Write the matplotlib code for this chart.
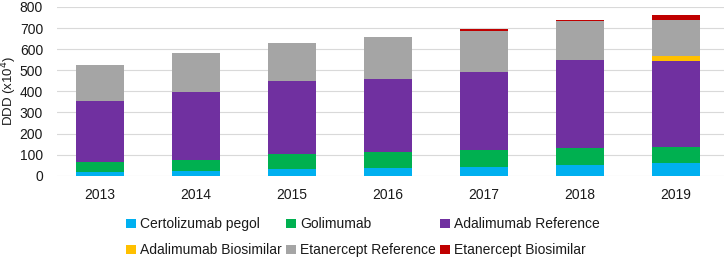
import matplotlib
matplotlib.use("Agg")
import matplotlib.pyplot as plt
import numpy as np

plt.rcParams['font.family'] = ['Liberation Sans', 'DejaVu Sans']

years = ["2013", "2014", "2015", "2016", "2017", "2018", "2019"]
certolizumab = [16, 22, 30, 38, 43, 52, 59]
golimumab = [49, 51, 71, 76, 79, 78, 78]
adalimumab_ref = [289, 324, 346, 346, 368, 417, 408]
adalimumab_bio = [0, 0, 0, 0, 0, 0, 22]
etanercept_ref = [170, 184, 183, 199, 197, 185, 170]
etanercept_bio = [0, 0, 0, 0, 8, 8, 23]

series = [
    ("Certolizumab pegol", certolizumab, "#00B0F0"),
    ("Golimumab", golimumab, "#00B050"),
    ("Adalimumab Reference", adalimumab_ref, "#7030A0"),
    ("Adalimumab Biosimilar", adalimumab_bio, "#FFC000"),
    ("Etanercept Reference", etanercept_ref, "#A5A5A5"),
    ("Etanercept Biosimilar", etanercept_bio, "#C00000"),
]

fig = plt.figure(figsize=(7.26, 2.62), dpi=100)
ax = fig.add_axes([57/726, 1 - 175.7/262, (724-57)/726, (175.7-7)/262])

x = np.arange(len(years))
bottom = np.zeros(len(years))
handles = {}
for name, vals, col in series:
    v = np.array(vals, dtype=float)
    b = ax.bar(x, v, 0.5, bottom=bottom, color=col, linewidth=0, label=name, zorder=3)
    handles[name] = b
    bottom += v

ax.set_xlim(-0.45, 6.5)
ax.set_ylim(0, 800)
ax.set_yticks(range(0, 801, 100))
ax.set_xticks(x)
ax.set_xticklabels(years)
ax.yaxis.grid(True, color="#D9D9D9", linewidth=0.8, zorder=0)
for s in ax.spines.values():
    s.set_visible(False)
ax.tick_params(axis="both", length=0, labelsize=10, colors="#1a1a1a")
ax.tick_params(axis="x", pad=9)
ax.tick_params(axis="y", pad=10)
ax.set_ylabel("DDD (x10$^4$)", fontsize=9.5, color="#1a1a1a")
ax.yaxis.set_label_coords(-38/667, 0.5)

order = ["Certolizumab pegol", "Adalimumab Biosimilar", "Golimumab",
         "Etanercept Reference", "Adalimumab Reference", "Etanercept Biosimilar"]
leg = fig.legend([handles[n] for n in order], order, ncol=3, loc="center",
                 bbox_to_anchor=(0.5, 0.094), frameon=False, fontsize=10,
                 handlelength=0.7, handleheight=0.7, handletextpad=0.3,
                 columnspacing=0.3, labelspacing=0.85)
for t in leg.get_texts():
    t.set_color("#1a1a1a")

fig.savefig("out.png", dpi=100)
